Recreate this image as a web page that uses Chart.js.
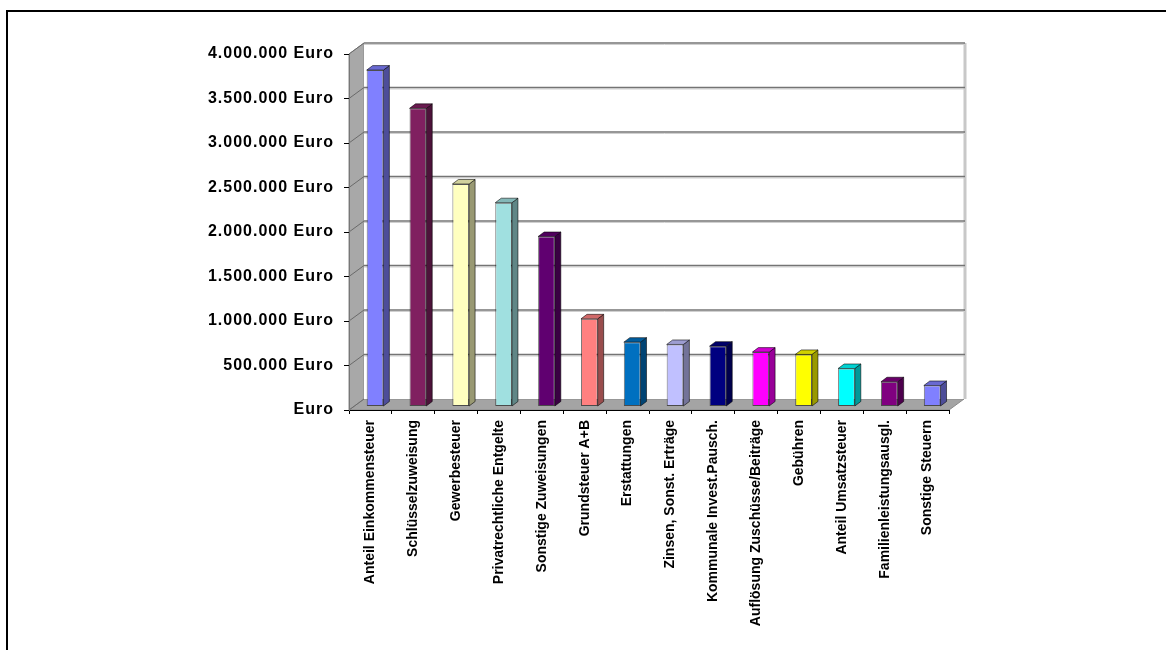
<!DOCTYPE html>
<html lang="de">
<head>
<meta charset="utf-8">
<title>Erträge</title>
<script src="https://cdn.jsdelivr.net/npm/chart.js@4.4.1/dist/chart.umd.min.js"></script>
<style>
  html, body { margin: 0; padding: 0; background: #fff; }
  #wrap { position: relative; width: 1166px; height: 650px; overflow: hidden; }
  #frame {
    position: absolute; left: 6px; top: 10px; width: 1300px; height: 800px;
    border-left: 2px solid #000; border-top: 2px solid #000;
  }
  #chart { position: absolute; left: 0; top: 0; }
</style>
</head>
<body>
<div id="wrap">
  <div id="frame"></div>
  <canvas id="chart" width="1166" height="650"></canvas>
</div>
<script>
// Categories and amounts (Euro)
const categories = [
  "Anteil Einkommensteuer",
  "Schlüsselzuweisung",
  "Gewerbesteuer",
  "Privatrechtliche Entgelte",
  "Sonstige Zuweisungen",
  "Grundsteuer A+B",
  "Erstattungen",
  "Zinsen, Sonst. Erträge",
  "Kommunale Invest.Pausch.",
  "Auflösung Zuschüsse/Beiträge",
  "Gebühren",
  "Anteil Umsatzsteuer",
  "Familienleistungsausgl.",
  "Sonstige Steuern"
];
const values = [
  3780000, 3350000, 2500000, 2290000, 1910000, 985000, 723000,
  697000, 678000, 611000, 585000, 427000, 278000, 236000
];
const barColors = [
  "#8080FF", "#802060", "#FFFFC0", "#A0E0E0", "#600070", "#FF8080", "#0070C0",
  "#C0C0FF", "#000080", "#FF00FF", "#FFFF00", "#00FFFF", "#800080", "#8080FF"
];
const yTickLabels = [
  "Euro", "500.000 Euro", "1.000.000 Euro", "1.500.000 Euro", "2.000.000 Euro",
  "2.500.000 Euro", "3.000.000 Euro", "3.500.000 Euro", "4.000.000 Euro"
];

// depth of the walls and of each column (pixels)
const WALL_DX = 15, WALL_DY = -11;
const BAR_SHIFT_X = 4.6, BAR_SHIFT_Y = -3.5;
const BAR_DX = 6, BAR_DY = -4.5;

function shade(hex, f) {
  const n = parseInt(hex.slice(1), 16);
  const r = Math.round(((n >> 16) & 255) * f);
  const g = Math.round(((n >> 8) & 255) * f);
  const b = Math.round((n & 255) * f);
  return `rgb(${r},${g},${b})`;
}

function poly(ctx, pts, fill, stroke) {
  ctx.beginPath();
  ctx.moveTo(pts[0][0], pts[0][1]);
  for (let i = 1; i < pts.length; i++) ctx.lineTo(pts[i][0], pts[i][1]);
  ctx.closePath();
  if (fill) { ctx.fillStyle = fill; ctx.fill(); }
  if (stroke) { ctx.strokeStyle = stroke; ctx.lineWidth = 1; ctx.stroke(); }
}

// back wall, side wall and floor of the 3D box
const walls3d = {
  id: "walls3d",
  beforeDraw(chart) {
    const { ctx, chartArea: a, scales } = chart;
    const y = scales.y;
    ctx.save();
    // floor
    poly(ctx, [[a.left, a.bottom], [a.right, a.bottom],
      [a.right + WALL_DX, a.bottom + WALL_DY], [a.left + WALL_DX, a.bottom + WALL_DY]],
      "#a4a4a4", "#8a8a8a");
    // left wall
    poly(ctx, [[a.left, a.top], [a.left + WALL_DX, a.top + WALL_DY],
      [a.left + WALL_DX, a.bottom + WALL_DY], [a.left, a.bottom]],
      "#a8a8a8", "#8a8a8a");
    // back wall
    const bl = a.left + WALL_DX, br = a.right + WALL_DX + 1;
    const bt = a.top + WALL_DY, bb = a.bottom + WALL_DY;
    ctx.fillStyle = "#fff";
    ctx.fillRect(bl, bt, br - bl, bb - bt);
    ctx.strokeStyle = "#c8c8c8";
    ctx.lineWidth = 3;
    ctx.beginPath();
    ctx.moveTo(br, bt);
    ctx.lineTo(br, bb);
    ctx.stroke();
    // grid lines on back wall and their diagonals on the side wall
    y.ticks.forEach((t) => {
      const py = y.getPixelForValue(t.value);
      if (t.value > 0) {
        ctx.strokeStyle = "#d0d0d0";
        ctx.lineWidth = 1;
        ctx.beginPath();
        ctx.moveTo(bl, py + WALL_DY + 1.5);
        ctx.lineTo(br, py + WALL_DY + 1.5);
        ctx.stroke();
        ctx.strokeStyle = "#747474";
        ctx.lineWidth = 1.6;
        ctx.beginPath();
        ctx.moveTo(bl, py + WALL_DY);
        ctx.lineTo(br, py + WALL_DY);
        ctx.stroke();
      }
      ctx.strokeStyle = "#6a6a6a";
      ctx.lineWidth = 1;
      ctx.beginPath();
      ctx.moveTo(a.left, py);
      ctx.lineTo(a.left + WALL_DX, py + WALL_DY);
      ctx.stroke();
    });
    ctx.restore();
    // wider spacing for the value axis labels
    ctx.letterSpacing = "1px";
  },
  beforeDatasetsDraw(chart) {
    const ctx = chart.ctx;
    ctx.save();
    ctx.translate(BAR_SHIFT_X, BAR_SHIFT_Y);
  },
  afterDatasetsDraw(chart) {
    const ctx = chart.ctx;
    const meta = chart.getDatasetMeta(0);
    meta.data.forEach((bar, i) => {
      const w = bar.width;
      const l = bar.x - w / 2, r = bar.x + w / 2;
      const top = bar.y, base = bar.base;
      const c = barColors[i];
      poly(ctx, [[r, top], [r + BAR_DX, top + BAR_DY], [r + BAR_DX, base + BAR_DY], [r, base]],
        shade(c, 0.6), "rgba(0,0,0,0.55)");
      poly(ctx, [[l, top], [l + BAR_DX, top + BAR_DY], [r + BAR_DX, top + BAR_DY], [r, top]],
        shade(c, 0.82), "rgba(0,0,0,0.55)");
    });
    ctx.restore();
    ctx.letterSpacing = "0px";
  }
};

new Chart(document.getElementById("chart"), {
  type: "bar",
  data: {
    labels: categories,
    datasets: [{
      data: values,
      backgroundColor: barColors,
      borderColor: "rgba(0,0,0,0.55)",
      borderWidth: 1,
      borderSkipped: false,
      categoryPercentage: 1,
      barPercentage: 0.39
    }]
  },
  options: {
    responsive: false,
    animation: false,
    layout: { padding: { top: 54, right: 217, left: 0, bottom: 0 } },
    plugins: { legend: { display: false }, tooltip: { enabled: false } },
    scales: {
      x: {
        grid: { drawOnChartArea: false, tickLength: 4, color: "#000" },
        border: { color: "#000", width: 1 },
        ticks: {
          autoSkip: false,
          maxRotation: 90,
          minRotation: 90,
          padding: 6,
          color: "#000",
          z: 1,
          font: { family: "'Liberation Sans', Arial, sans-serif", size: 14, weight: "bold" }
        },
        afterFit(scale) { scale.height = 240; }
      },
      y: {
        min: 0,
        max: 4000000,
        grid: { drawOnChartArea: false, tickLength: 5, color: "#000" },
        border: { color: "#777", width: 1 },
        ticks: {
          stepSize: 500000,
          padding: 10,
          color: "#000",
          font: { family: "'Liberation Sans', Arial, sans-serif", size: 16, weight: "bold" },
          callback: (v, i) => yTickLabels[i]
        },
        afterFit(scale) { scale.width = 349; }
      }
    }
  },
  plugins: [walls3d]
});
</script>
</body>
</html>
